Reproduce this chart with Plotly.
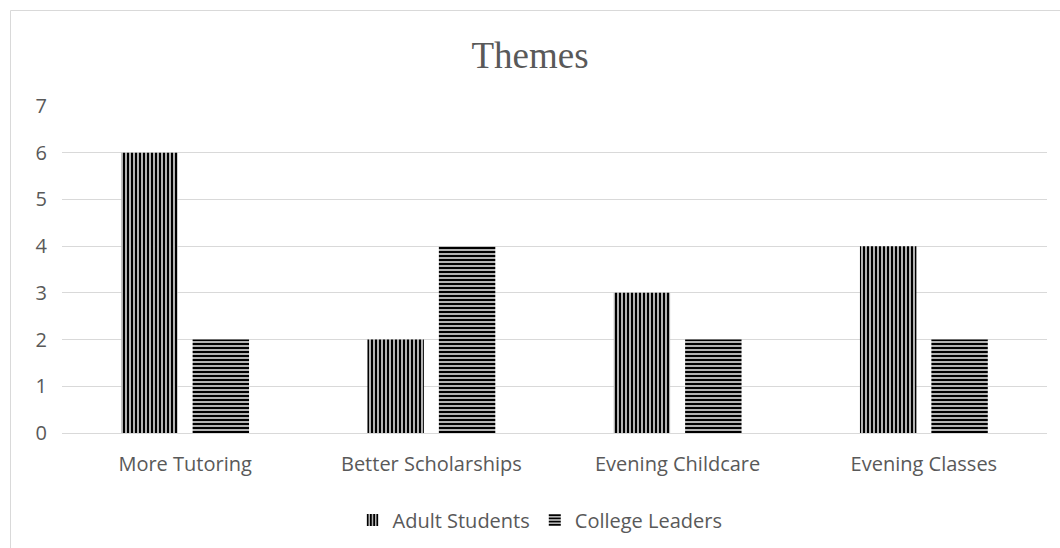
import plotly.graph_objects as go

categories = ["More Tutoring", "Better Scholarships", "Evening Childcare", "Evening Classes"]
adult_students = [6, 2, 3, 4]
college_leaders = [2, 4, 2, 2]
y_ticks = [0, 1, 2, 3, 4, 5, 6, 7]

W, H = 1060, 548
ML, MR, MT, MB = 62, 13, 106, 115
pw, ph = W - ML - MR, H - MT - MB

def px_x(x):
    return (x - ML) / pw

def px_y(y):
    return (H - MB - y) / ph

tick_font = dict(family="Open Sans", size=20, color="#595959")

fig = go.Figure()
fig.add_trace(go.Bar(
    name="Adult Students", x=categories, y=adult_students,
    marker=dict(color="white", line=dict(width=0),
                pattern=dict(shape="|", fgcolor="#000000", bgcolor="white", size=4,
                             solidity=0.65, fgopacity=1, fillmode="replace")),
))
fig.add_trace(go.Bar(
    name="College Leaders", x=categories, y=college_leaders,
    marker=dict(color="white", line=dict(width=0),
                pattern=dict(shape="-", fgcolor="#000000", bgcolor="white", size=4,
                             solidity=0.65, fgopacity=1, fillmode="replace")),
))

fig.update_layout(
    width=W, height=H,
    margin=dict(l=ML, r=MR, t=MT, b=MB, autoexpand=False),
    paper_bgcolor="white", plot_bgcolor="white",
    barmode="group", bargap=0.42, bargroupgap=0.21,
    title=dict(text="Themes", x=0.5, xanchor="center", y=1 - 55 / H, yanchor="middle",
               font=dict(family="Liberation Serif", size=37, color="#595959")),
    xaxis=dict(showgrid=False, showline=False, ticks="", tickfont=tick_font,
               ticklabelstandoff=17, automargin=False),
    yaxis=dict(range=[0, 7], tickvals=y_ticks, showgrid=True, gridcolor="#d9d9d9", gridwidth=1,
               zeroline=True, zerolinecolor="#d9d9d9", zerolinewidth=1, showline=False,
               tickfont=tick_font, ticks="", ticklabelstandoff=14, automargin=False),
    legend=dict(orientation="h", x=px_x(540), xanchor="center", y=px_y(520), yanchor="middle",
                font=tick_font, traceorder="normal", itemwidth=30),
    showlegend=True,
)

fig.add_shape(type="rect", xref="paper", yref="paper",
              x0=px_x(10.5), x1=px_x(W + 10), y0=px_y(10.5), y1=px_y(H + 10),
              line=dict(color="#d9d9d9", width=1), fillcolor="rgba(0,0,0,0)", layer="below")

fig.write_html("out.html")
